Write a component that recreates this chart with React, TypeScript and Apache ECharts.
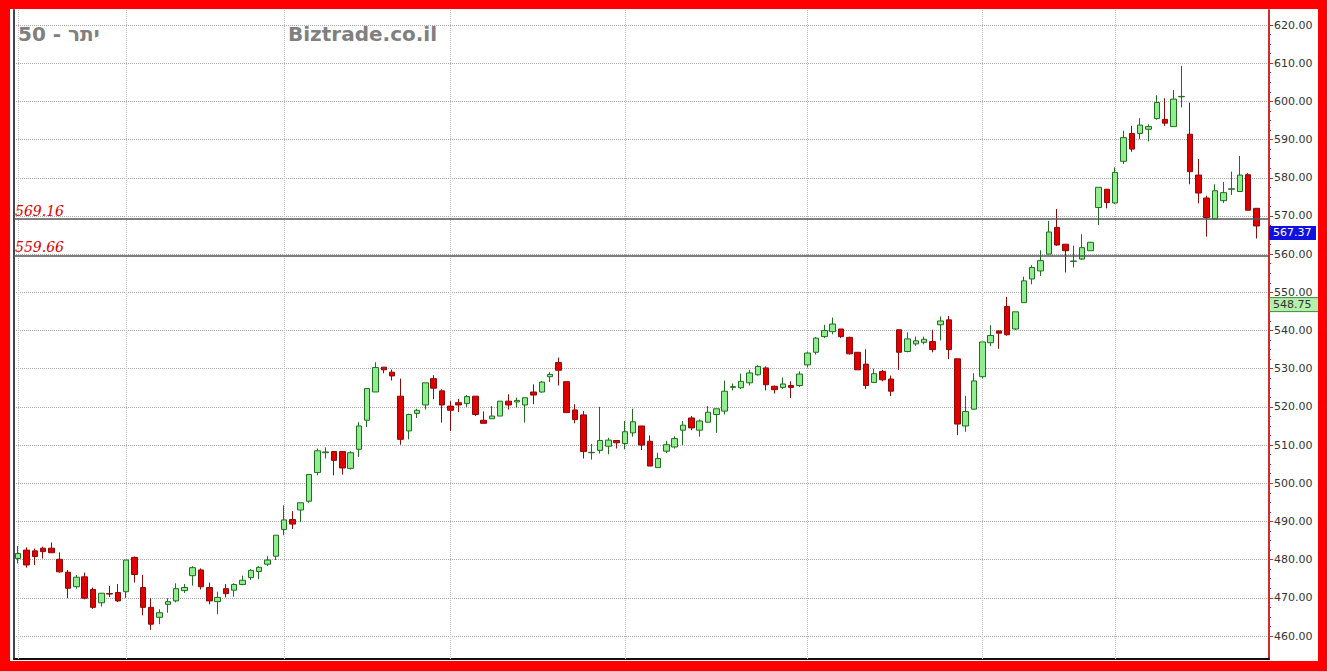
import React, { useEffect, useRef } from "react";
import * as echarts from "echarts";

const opens = [
  480.3, 482.5, 482.3, 483.0, 483.0, 480.1, 476.7, 472.9, 475.5, 472.2,
  468.7, 471.1, 471.4, 471.6, 480.6, 472.7, 467.5, 464.9, 468.3, 469.2,
  471.9, 475.8, 477.3, 472.7, 469.0, 472.4, 472.0, 473.5, 475.3, 476.9,
  478.8, 480.9, 487.9, 490.5, 493.0, 495.3, 502.8, 508.0, 508.3, 508.3,
  503.9, 508.9, 516.5, 523.9, 530.4, 529.1, 522.8, 513.7, 518.3, 520.5,
  527.4, 524.2, 520.2, 521.1, 520.9, 522.8, 516.5, 516.9, 517.6, 521.5,
  521.3, 520.5, 523.9, 523.9, 527.9, 531.6, 526.6, 519.2, 517.9, 508.0,
  508.6, 509.7, 511.2, 510.4, 513.2, 515.0, 511.0, 504.1, 508.4, 509.5,
  513.9, 517.1, 513.9, 516.0, 518.0, 518.9, 525.1, 525.0, 526.3, 528.4,
  530.2, 525.4, 525.1, 525.6, 525.6, 531.0, 534.3, 538.4, 539.7, 540.4,
  538.2, 534.3, 531.2, 526.4, 529.3, 527.3, 540.2, 534.5, 536.5, 536.9,
  537.1, 541.5, 542.8, 532.6, 515.0, 519.4, 527.9, 536.8, 539.9, 546.3,
  540.4, 547.3, 553.5, 555.6, 560.0, 567.0, 562.6, 558.1, 558.7, 560.9,
  572.2, 577.0, 573.4, 584.3, 591.6, 591.6, 592.7, 595.5, 595.3, 593.4,
  601.2, 591.4, 580.7, 574.7, 569.2, 574.0, 577.0, 576.4, 580.8, 572.0,
];
const closes = [
  481.6, 478.6, 480.8, 482.1, 481.8, 476.8, 472.5, 475.4, 469.9, 467.5,
  471.2, 471.0, 469.2, 479.9, 476.1, 467.5, 463.1, 466.1, 469.0, 472.4,
  472.7, 477.9, 472.9, 469.2, 470.1, 471.1, 473.5, 474.6, 477.2, 478.0,
  479.9, 486.4, 490.4, 489.3, 494.9, 502.3, 508.5, 508.2, 506.0, 504.0,
  508.0, 515.0, 524.8, 530.3, 529.7, 528.1, 511.5, 518.0, 519.1, 526.3,
  524.9, 520.5, 519.1, 520.5, 522.7, 518.0, 515.7, 517.6, 521.5, 520.5,
  521.7, 522.4, 523.1, 526.5, 528.5, 529.6, 518.5, 516.7, 508.3, 508.1,
  511.2, 511.3, 510.6, 513.5, 516.1, 510.0, 504.5, 506.5, 510.1, 511.7,
  515.2, 514.5, 516.3, 518.6, 519.5, 524.1, 525.3, 526.7, 528.9, 530.6,
  525.8, 524.5, 526.0, 525.1, 528.6, 534.1, 538.0, 540.0, 541.7, 538.4,
  533.9, 529.7, 525.6, 528.7, 527.1, 524.1, 534.3, 537.8, 537.3, 537.7,
  535.0, 542.5, 535.0, 515.5, 518.8, 526.8, 537.0, 538.7, 539.3, 538.9,
  544.9, 553.0, 556.5, 558.3, 565.8, 562.4, 560.9, 558.2, 561.7, 563.1,
  577.5, 573.5, 581.4, 590.5, 587.5, 593.8, 593.4, 599.7, 594.3, 600.6,
  601.3, 581.6, 576.0, 569.6, 576.6, 576.1, 577.1, 580.7, 571.5, 567.37,
];
const lows = [
  479.0, 477.9, 478.6, 480.3, 481.8, 476.6, 469.9, 472.4, 469.6, 467.1,
  467.7, 470.2, 468.9, 469.9, 474.0, 465.4, 461.6, 463.1, 466.1, 468.8,
  471.3, 473.2, 472.2, 468.3, 465.7, 470.1, 470.3, 473.3, 474.7, 474.9,
  478.3, 479.9, 486.4, 488.0, 489.8, 494.9, 502.1, 506.5, 502.1, 502.3,
  503.6, 506.9, 514.7, 523.9, 528.8, 526.9, 510.1, 511.5, 517.1, 519.3,
  522.0, 515.9, 513.7, 518.7, 520.0, 517.6, 515.7, 516.9, 517.6, 519.3,
  519.8, 515.9, 520.7, 523.7, 526.5, 525.6, 518.5, 515.7, 506.5, 506.2,
  507.8, 507.6, 509.1, 508.9, 512.2, 508.7, 504.5, 504.1, 507.9, 509.1,
  510.0, 513.9, 512.2, 515.8, 513.2, 518.0, 524.3, 524.7, 525.6, 528.2,
  524.3, 523.5, 524.7, 522.3, 525.2, 530.3, 533.7, 538.0, 539.0, 538.0,
  533.7, 529.7, 524.7, 526.3, 526.7, 522.8, 529.7, 534.3, 536.0, 536.4,
  534.3, 537.4, 532.5, 512.6, 513.5, 519.4, 527.4, 535.9, 535.2, 538.6,
  540.1, 547.2, 552.1, 554.3, 560.0, 562.2, 555.2, 556.5, 558.5, 560.9,
  567.6, 572.0, 573.1, 583.6, 586.8, 590.1, 589.5, 595.2, 593.6, 593.4,
  598.4, 578.3, 573.3, 564.6, 569.2, 573.4, 575.5, 576.4, 571.5, 564.1,
];
const highs = [
  483.6, 483.2, 482.9, 483.4, 484.5, 481.9, 477.3, 476.0, 476.6, 472.7,
  471.3, 473.1, 473.6, 479.9, 480.8, 476.0, 469.9, 467.0, 469.9, 473.8,
  473.6, 478.3, 477.7, 474.0, 471.6, 473.6, 473.8, 475.8, 477.5, 478.3,
  480.9, 486.4, 494.2, 492.7, 494.9, 502.3, 509.1, 509.4, 508.3, 508.3,
  508.4, 516.0, 524.8, 531.7, 530.4, 529.8, 527.4, 518.2, 519.5, 526.3,
  528.3, 524.6, 521.5, 522.1, 523.1, 522.8, 518.8, 520.2, 521.5, 523.3,
  522.4, 522.4, 525.9, 526.8, 529.1, 532.9, 526.6, 520.7, 518.9, 510.3,
  520.0, 511.9, 511.2, 516.3, 519.5, 515.0, 512.5, 508.0, 511.1, 512.3,
  516.3, 517.6, 516.7, 520.2, 519.5, 526.9, 526.1, 528.7, 529.7, 530.9,
  530.6, 525.6, 527.7, 526.7, 529.3, 534.5, 538.3, 541.5, 543.4, 540.4,
  538.4, 534.3, 535.1, 530.0, 529.7, 528.2, 540.2, 539.5, 538.4, 538.4,
  540.2, 543.7, 543.8, 532.6, 522.9, 528.8, 537.0, 541.4, 540.0, 548.8,
  544.9, 554.1, 557.1, 561.0, 568.7, 571.8, 562.6, 562.2, 565.2, 563.2,
  577.5, 577.0, 582.7, 592.3, 593.6, 595.6, 594.0, 601.6, 600.8, 603.0,
  609.3, 599.7, 584.9, 575.3, 578.3, 578.9, 581.6, 585.7, 581.2, 572.0,
];

const yTicks = [460, 470, 480, 490, 500, 510, 520, 530, 540, 550, 560, 570, 580, 590, 600, 610, 620];
const monthStarts = [0, 13, 32, 52, 73, 95, 116, 132];
const levelLines = [569.16, 559.66];
const lastPrice = 567.37;
const otherPrice = 548.75;
const titleText = "יתר - 50";
const siteText = "Biztrade.co.il";

const Y_MIN = 453.98;
const Y_MAX = 623.93;

export default function App() {
  const ref = useRef<HTMLDivElement>(null);

  useEffect(() => {
    if (!ref.current) return;
    const chart = echarts.init(ref.current, null, { renderer: "svg" });

    const categories = opens.map((_, i) => String(i + 1));
    categories.push("");
    const candles = opens.map((o, i) => [o, closes[i], lows[i], highs[i]]);

    const minorTicks: number[] = [];
    yTicks.forEach((t, i) => {
      if (i < yTicks.length - 1) {
        const step = (yTicks[i + 1] - t) / 4;
        for (let k = 1; k < 4; k++) minorTicks.push(t + step * k);
      }
    });

    chart.setOption({
      animation: false,
      backgroundColor: "#ffffff",
      grid: { left: 4, right: 49, top: 1, bottom: 2, containLabel: false },
      xAxis: {
        type: "category",
        data: categories,
        boundaryGap: true,
        axisLine: { show: true, lineStyle: { color: "#111111", width: 2 } },
        axisTick: { show: false },
        axisLabel: { show: false },
        splitLine: { show: false },
      },
      yAxis: [
        {
          type: "value",
          position: "right",
          min: Y_MIN,
          max: Y_MAX,
          axisLine: { show: true, lineStyle: { color: "#d42a2a", width: 2 } },
          axisTick: {
            show: true,
            customValues: yTicks,
            length: 4,
            lineStyle: { color: "#d42a2a", width: 1 },
          },
          axisLabel: {
            show: true,
            customValues: yTicks,
            formatter: (v: number) => v.toFixed(2),
            color: "#333333",
            fontSize: 11,
            fontFamily: "DejaVu Sans",
            margin: 5,
          },
          splitLine: {
            show: true,
            lineStyle: { color: "#a8a8a8", type: "dotted", width: 1 },
          },
        },
        {
          type: "value",
          position: "right",
          min: Y_MIN,
          max: Y_MAX,
          axisLine: { show: false },
          axisTick: {
            show: true,
            customValues: minorTicks,
            length: 2,
            lineStyle: { color: "#d42a2a", width: 1 },
          },
          axisLabel: { show: false },
          splitLine: { show: false },
        },
        {
          type: "value",
          position: "left",
          min: Y_MIN,
          max: Y_MAX,
          axisLine: { show: true, lineStyle: { color: "#444455", width: 2 } },
          axisTick: { show: false },
          axisLabel: { show: false },
          splitLine: { show: false },
        },
      ],
      series: [
        {
          type: "line",
          data: [],
          z: 1,
          markLine: {
            z: 1,
            silent: true,
            symbol: "none",
            label: { show: false },
            lineStyle: { color: "#bdbdbd", type: "dotted", width: 1 },
            data: monthStarts.map((i) => ({ xAxis: categories[i] })),
          },
        },
        {
          type: "candlestick",
          data: candles,
          barWidth: 6,
          itemStyle: {
            color: "#90ee90",
            color0: "#e00000",
            borderColor: "#1f6f1f",
            borderColor0: "#8b0a0a",
            borderWidth: 1,
          },
          markLine: {
            silent: true,
            symbol: "none",
            data: levelLines.map((v) => ({
              yAxis: v,
              lineStyle: { color: "#555555", width: 1.5, type: "solid" },
              label: {
                show: true,
                position: "insideStartTop",
                distance: 1,
                formatter: () => v.toFixed(2),
                color: "#dd0000",
                fontStyle: "italic",
                fontFamily: "DejaVu Serif",
                fontSize: 14,
              },
            })),
          },
        },
      ],
    });

    const gridRight = 1308 - 49;
    const yLast = chart.convertToPixel({ yAxisIndex: 0 }, lastPrice) as number;
    const yOther = chart.convertToPixel({ yAxisIndex: 0 }, otherPrice) as number;

    chart.setOption({
      graphic: [
        {
          type: "text",
          left: 8,
          top: 15,
          style: {
            text: titleText,
            fill: "#808080",
            font: "bold 20px 'DejaVu Sans'",
          },
        },
        {
          type: "text",
          left: 278,
          top: 15,
          style: {
            text: siteText,
            fill: "#808080",
            font: "bold 20px 'DejaVu Sans'",
          },
        },
        {
          type: "rect",
          shape: { x: gridRight, y: yLast, width: 47, height: 14 },
          style: { fill: "#1010e0" },
          z: 10,
        },
        {
          type: "text",
          x: gridRight + 4,
          y: yLast + 7,
          z: 11,
          style: {
            text: lastPrice.toFixed(2),
            fill: "#ffffff",
            font: "11px 'DejaVu Sans'",
            verticalAlign: "middle",
          },
        },
        {
          type: "rect",
          shape: { x: gridRight + 0.5, y: yOther + 0.5, width: 49, height: 14 },
          style: { fill: "#b4f0ac", stroke: "#3c8a3c", lineWidth: 1 },
          z: 10,
        },
        {
          type: "text",
          x: gridRight + 4,
          y: yOther + 7.5,
          z: 11,
          style: {
            text: otherPrice.toFixed(2),
            fill: "#333333",
            font: "11px 'DejaVu Sans'",
            verticalAlign: "middle",
          },
        },
      ],
    });

    return () => chart.dispose();
  }, []);

  return (
    <div
      style={{
        position: "fixed",
        left: 0,
        top: 0,
        width: 1327,
        height: 671,
        background: "#ff0000",
      }}
    >
      <div
        ref={ref}
        style={{
          position: "absolute",
          left: 10,
          top: 9,
          width: 1308,
          height: 652,
          background: "#ffffff",
        }}
      />
    </div>
  );
}
